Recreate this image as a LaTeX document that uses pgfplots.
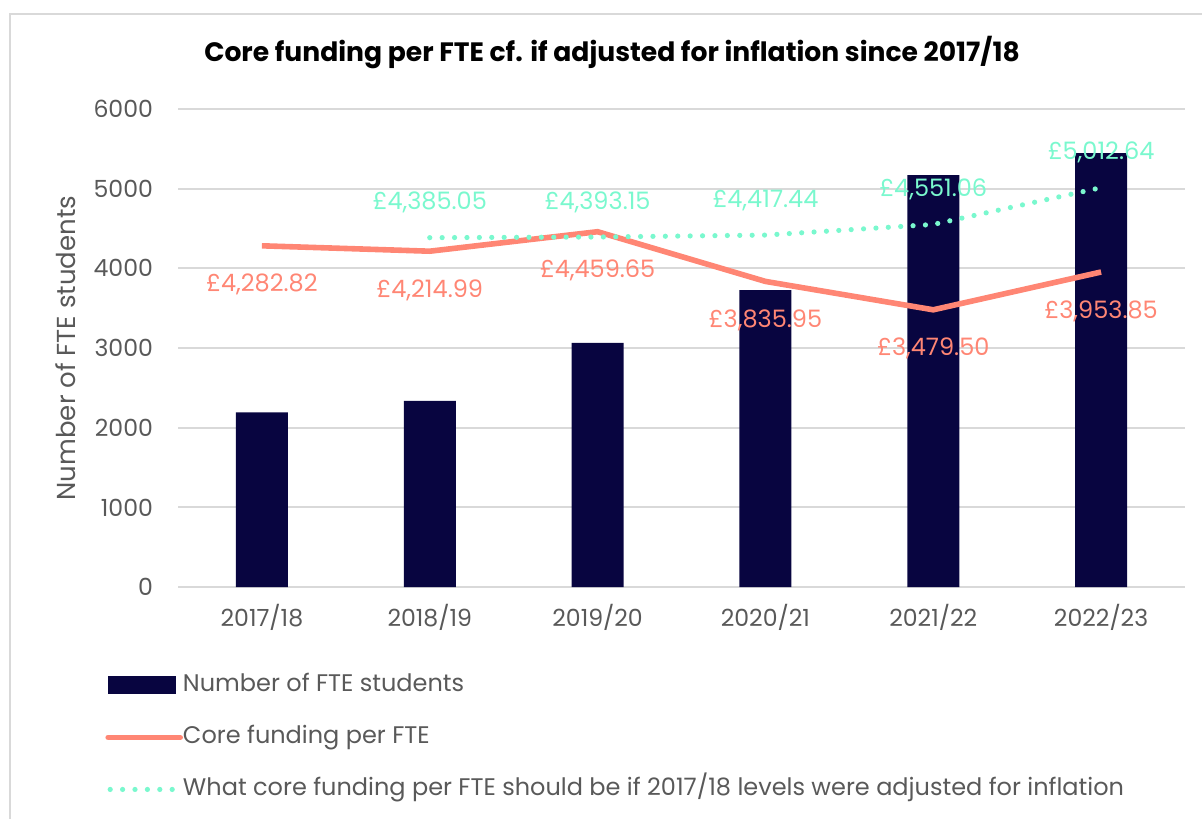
\documentclass[border=0pt]{standalone}
\usepackage{fontspec}
\setmainfont{Poppins}
\usepackage{pgfplots}
\pgfplotsset{compat=1.18}

\definecolor{navy}{RGB}{8,5,64}
\definecolor{salmon}{RGB}{255,134,116}
\definecolor{mint}{RGB}{122,248,206}
\definecolor{txtgray}{RGB}{89,89,89}
\definecolor{gridgray}{RGB}{217,217,217}

\begin{document}
\begin{tikzpicture}[x=1bp,y=1bp]
\path[use as bounding box] (0,0) rectangle (601,409.5);
\draw[gridgray, line width=1bp] (601,402.25) -- (4.75,402.25) -- (4.75,0);
\begin{axis}[
    at={(89bp,116bp)}, anchor=south west,
    scale only axis,
    width=503.5bp, height=239bp,
    xmin=-0.5, xmax=5.5,
    ymin=0, ymax=6000,
    xtick={0,1,2,3,4,5},
    xticklabels={2017/18,2018/19,2019/20,2020/21,2021/22,2022/23},
    ytick={0,1000,2000,3000,4000,5000,6000},
    major tick length=0pt,
    axis line style={draw=none},
    ymajorgrids,
    grid style={gridgray, line width=1bp},
    /pgf/number format/assume math mode=true,
    scaled y ticks=false,
    yticklabel style={/pgf/number format/1000 sep={}, font=\fontsize{11.8bp}{14bp}\selectfont, text=txtgray, xshift=-9bp},
    xticklabel style={font=\fontsize{11.8bp}{14bp}\selectfont, text=txtgray, yshift=-5bp},
    ylabel={Number of FTE students},
    every axis y label/.style={at={(axis description cs:-0.112,0.5)}, rotate=90, anchor=center,
        font=\fontsize{13bp}{15bp}\selectfont, text=txtgray},
    title={\textbf{Core funding per FTE cf. if adjusted for inflation since 2017/18}},
    title style={font=\fontsize{13.3bp}{16bp}\selectfont, at={(axis description cs:0.431,1.093)}, anchor=center},
    legend style={draw=none, fill=none, at={(axis description cs:-0.0725,-0.18)}, anchor=north west,
        font=\fontsize{12bp}{14bp}\selectfont, text=txtgray, row sep=14bp, inner sep=0pt,
        nodes={inner sep=0pt, text height=9bp, text depth=3bp, anchor=west, xshift=3bp}},
    legend cell align=left,
    clip=false,
]
\addplot[ybar, bar width=26bp, fill=navy, draw=none,
    legend image code/.code={\fill[navy] (0bp,-4.5bp) rectangle (34bp,4.5bp);}]
coordinates {(0,2193) (1,2335) (2,3063) (3,3728) (4,5171) (5,5445)};
\addlegendentry{Number of FTE students}

\addplot[salmon, line width=2.8bp, mark=none,
    point meta=explicit symbolic,
    nodes near coords, nodes near coords style={anchor=center, yshift=-19.5bp, text=salmon, font=\fontsize{12bp}{14bp}\selectfont},
    legend image code/.code={\draw[salmon, line width=2.8bp, line cap=round] (0bp,0bp) -- (36bp,0bp);}]
coordinates {(0,4282.82) [£4,282.82] (1,4214.99) [£4,214.99] (2,4459.65) [£4,459.65]
             (3,3835.95) [£3,835.95] (4,3479.50) [£3,479.50] (5,3953.85) [£3,953.85]};
\addlegendentry{Core funding per FTE}

\addplot[mint, line width=2.6bp, mark=none, line cap=round, dash pattern=on 0bp off 6.2bp,
    point meta=explicit symbolic,
    nodes near coords, nodes near coords style={anchor=center, yshift=17.5bp, text=mint, font=\fontsize{12bp}{14bp}\selectfont},
    legend image code/.code={\draw[mint, line width=2.6bp, line cap=round, dash pattern=on 0bp off 6.2bp] (1bp,0bp) -- (36bp,0bp);}]
coordinates {(1,4385.05) [£4,385.05] (2,4393.15) [£4,393.15] (3,4417.44) [£4,417.44]
             (4,4551.06) [£4,551.06] (5,5012.64) [£5,012.64]};
\addlegendentry{What core funding per FTE should be if 2017/18 levels were adjusted for inflation}
\end{axis}
\end{tikzpicture}
\end{document}
